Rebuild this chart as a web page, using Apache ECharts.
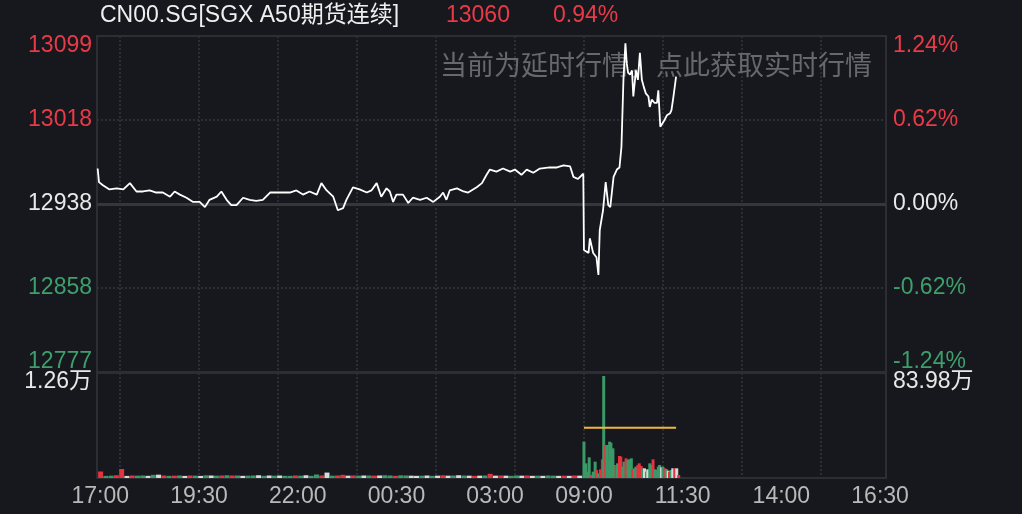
<!DOCTYPE html>
<html><head><meta charset="utf-8">
<script src="https://cdn.jsdelivr.net/npm/echarts@6/dist/echarts.min.js"></script>
<style>html,body{margin:0;padding:0;background:#16181d;}#c{width:1022px;height:514px;}</style>
</head><body><div id="c"></div>
<script>
// ---------- data ----------
const titleName = 'CN00.SG[SGX A50期货连续]';
const lastPrice = '13060';
const lastChange = '0.94%';
const notice = '当前为延时行情，点此获取实时行情';
const prevClose = 12938;
const priceMin = 12777, priceMax = 13099;
const priceTickLabels = ['12777', '12858', '12938', '13018', '13099'];
const pctTickLabels = ['-1.24%', '-0.62%', '0.00%', '0.62%', '1.24%'];
const volMax = 12600, volMaxLabel = '1.26万';
const amtMax = 839800, amtMaxLabel = '83.98万';
const sessions = [['16:55', 740], ['09:00', 460]];
const timeTickLabels = ['17:00', '19:30', '22:00', '00:30', '03:00', '09:00', '11:30', '14:00', '16:30'];
const gridTimes = ['17:30', '19:30', '21:30', '23:30', '01:30', '03:30', '09:00', '11:00', '13:00', '15:00'];

// [minute index, price]
const pricePoints = [
 [1,12972],[3,12959],[9,12956],[19,12952],[30,12953],[40,12952],[50,12958],[60,12950],[70,12950],[80,12951],
 [90,12949],[100,12949],[111,12945],[118,12950],[126,12947],[136,12944],[146,12940],[156,12940],[164,12935],[171,12942],
 [182,12945],[189,12950],[197,12942],[204,12937],[212,12937],[222,12944],[232,12942],[242,12941],[252,12942],[263,12949],
 [273,12949],[283,12949],[293,12949],[303,12951],[313,12947],[323,12950],[334,12947],[341,12958],[349,12951],[359,12945],
 [366,12932],[374,12934],[379,12942],[389,12954],[399,12952],[410,12949],[417,12951],[425,12958],[432,12945],[440,12953],
 [445,12950],[450,12940],[455,12947],[465,12947],[473,12939],[480,12944],[491,12942],[501,12944],[511,12940],[521,12945],
 [526,12949],[531,12942],[536,12951],[547,12953],[557,12950],[564,12949],[577,12954],[585,12958],[592,12966],[597,12971],
 [607,12969],[617,12972],[628,12969],[635,12971],[645,12966],[653,12971],[663,12968],[673,12972],[688,12973],[699,12973],
 [709,12975],[719,12974],[724,12964],[731,12962],[739,12967],
 [740,12894],[747,12891],[749,12905],[754,12891],[759,12887],[762,12870],[764,12913],[769,12932],[773,12959],[777,12937],
 [780,12935],[785,12964],[790,12971],[794,12973],[797,12993],[800,13057],[803,13092],[805,13073],[807,13064],[810,13062],
 [813,13066],[815,13041],[819,13066],[822,13057],[825,13083],[828,13057],[831,13050],[834,13044],[838,13041],[840,13031],
 [843,13038],[847,13035],[851,13035],[853,13047],[856,13012],[858,13011],[862,13018],[866,13023],[871,13025],[873,13028],
 [876,13041],[880,13060]
];

// [minute index, volume, direction r/g/f]
const nightVolume = [
 [4,780,'r'],[12,250,'g'],[20,280,'g'],[28,330,'r'],[36,1080,'r'],[44,250,'f'],[52,300,'r'],[60,280,'g'],[68,300,'g'],[76,260,'f'],
 [84,380,'g'],[92,400,'f'],[100,300,'r'],[108,260,'g'],[116,280,'r'],[124,300,'g'],[132,250,'f'],[140,300,'r'],[148,280,'g'],[156,250,'f'],
 [164,320,'g'],[172,300,'f'],[180,280,'g'],[188,300,'r'],[196,330,'g'],[204,300,'r'],[212,300,'g'],[220,260,'f'],[228,280,'g'],[236,300,'g'],
 [244,330,'f'],[252,260,'g'],[260,300,'f'],[268,280,'g'],[276,300,'f'],[284,260,'g'],[292,260,'g'],[300,300,'r'],[308,280,'g'],[316,330,'f'],
 [324,260,'g'],[332,420,'g'],[340,300,'r'],[348,650,'f'],[356,280,'g'],[364,300,'r'],[372,380,'r'],[380,280,'f'],[388,300,'r'],[396,280,'g'],
 [404,300,'f'],[412,300,'g'],[420,280,'r'],[428,300,'f'],[436,330,'g'],[444,300,'g'],[452,260,'r'],[460,320,'g'],[468,300,'g'],[476,280,'f'],
 [484,260,'f'],[492,280,'g'],[500,300,'f'],[508,260,'g'],[516,280,'f'],[524,330,'r'],[532,280,'f'],[540,300,'g'],[548,330,'f'],[556,300,'g'],
 [564,280,'f'],[572,260,'r'],[580,280,'f'],[588,300,'g'],[596,500,'r'],[604,280,'f'],[612,300,'r'],[620,280,'f'],[628,260,'g'],[636,300,'g'],
 [644,280,'f'],[652,300,'r'],[660,260,'f'],[668,280,'g'],[676,260,'f'],[684,300,'g'],[692,280,'g'],[700,260,'f'],[708,280,'r'],[716,260,'f'],
 [724,300,'r'],[732,280,'f']
];
const dayVolume = [
 [740,4360,'g'],[743,1760,'g'],[745,760,'g'],[748,2480,'g'],[751,360,'r'],[754,760,'g'],[757,1960,'g'],[759,960,'r'],[762,560,'g'],[765,1040,'r'],
 [768,2240,'r'],[770,12240,'g'],[773,3960,'r'],[775,3960,'g'],[777,2360,'g'],[779,4360,'g'],[781,4240,'g'],[784,3560,'g'],[786,1560,'g'],[789,1560,'r'],
 [791,1760,'g'],[794,2640,'r'],[796,2560,'r'],[799,1360,'g'],[801,1960,'g'],[804,2360,'r'],[807,2160,'g'],[809,2240,'g'],[812,2360,'g'],[814,1080,'r'],
 [817,1160,'g'],[819,1360,'g'],[822,1560,'r'],[824,1760,'r'],[827,1440,'r'],[829,1160,'g'],[832,1160,'f'],[835,760,'g'],[837,1040,'f'],[840,1760,'g'],
 [842,1560,'g'],[845,2240,'r'],[848,1040,'g'],[850,960,'g'],[853,1360,'g'],[855,1560,'g'],[858,1280,'f'],[860,1360,'g'],[863,1160,'r'],[865,1080,'g'],
 [868,880,'f'],[870,760,'r'],[873,960,'g'],[875,1160,'f'],[878,1160,'r'],[881,1160,'f'],[884,360,'r']
];
const avgVolume = [[740,6040],[880,6040]];

// ---------- styling ----------
const RED = '#ea3a48', GREEN = '#3f9f6c', WHITE = '#e8e8e8', FLAT = '#d9d9d9';
const VRED = '#e6323f', VGREEN = '#3a9967';
const GRIDC = '#2c2e33';
const F = '"Liberation Sans", "Noto Sans CJK SC", Arial, sans-serif';
const FS = 23;

// categories (one per minute)
const pad = n => (n < 10 ? '0' : '') + n;
const cats = [];
sessions.forEach(([start, n]) => {
  const [h, m] = start.split(':').map(Number);
  for (let i = 0; i < n; i++) {
    const t = h * 60 + m + i;
    cats.push(pad(Math.floor(t / 60) % 24) + ':' + pad(t % 60));
  }
});
const priceData = cats.map(() => null);
pricePoints.forEach(([i, v]) => { priceData[i] = v; });
const dirColor = { r: VRED, g: VGREEN, f: FLAT };
function volSeriesData(list) {
  const arr = cats.map(() => null);
  list.forEach(([i, v, d]) => { arr[i] = { value: v, itemStyle: { color: dirColor[d] } }; });
  return arr;
}
const avgData = cats.map(() => null);
avgVolume.forEach(([i, v]) => { avgData[i] = v; });

const priceInterval = (priceMax - priceMin) / 4;
const tickIdx = v => Math.round((v - priceMin) / priceInterval);
const labelCls = ['gb', 'g', 'w', 'r', 'rt'];
const rs = (c, p) => ({ color: c, fontSize: FS, fontFamily: F, padding: p });
const priceRich = {
  rt: rs(RED, [20, 0, 0, 0]), r: rs(RED, 0), w: rs(WHITE, 0), g: rs(GREEN, 0), gb: rs(GREEN, [0, 0, 20, 0])
};
const dotted = { color: GRIDC, width: 2, type: [2, 2] };

const chart = echarts.init(document.getElementById('c'), null, { renderer: 'canvas' });
chart.setOption({
  backgroundColor: '#16181d',
  animation: false,
  title: [
    {
      left: 100, top: 4, z: 0, padding: 0,
      text: '{n|' + titleName + '}{p|' + lastPrice + '}{c|' + lastChange + '}',
      textStyle: {
        rich: {
          n: { width: 346, color: '#efefef', fontSize: FS, fontFamily: F, fontWeight: 'normal' },
          p: { width: 107, color: RED, fontSize: FS, fontFamily: F, fontWeight: 'normal' },
          c: { color: RED, fontSize: FS, fontFamily: F, fontWeight: 'normal' }
        }
      }
    },
    {
      left: 440, top: 51, z: 0, padding: 0,
      text: notice,
      textStyle: { color: '#67686c', fontSize: 27, fontWeight: 'normal', fontFamily: '"Noto Sans CJK SC", sans-serif' }
    }
  ],
  grid: [
    { left: 97, right: 136, top: 36, height: 336, show: true, borderColor: GRIDC, borderWidth: 2, backgroundColor: 'transparent' },
    { left: 97, right: 136, top: 373, height: 105, show: true, borderColor: GRIDC, borderWidth: 2, backgroundColor: 'transparent' }
  ],
  xAxis: [
    {
      type: 'category', gridIndex: 0, data: cats, boundaryGap: false,
      axisLine: { show: false }, axisTick: { show: false }, axisLabel: { show: false },
      splitLine: { show: true, interval: (i, v) => gridTimes.includes(v), lineStyle: dotted }
    },
    {
      type: 'category', gridIndex: 1, data: cats, boundaryGap: false,
      axisLine: { show: false }, axisTick: { show: false },
      axisLabel: {
        show: true, interval: (i, v) => timeTickLabels.includes(v), margin: 7,
        color: '#b9b9b9', fontSize: FS, fontFamily: F
      },
      splitLine: { show: true, interval: (i, v) => gridTimes.includes(v), lineStyle: dotted }
    }
  ],
  yAxis: [
    {
      type: 'value', gridIndex: 0, position: 'left', min: priceMin, max: priceMax, interval: priceInterval,
      axisLine: { show: false }, axisTick: { show: false },
      axisLabel: {
        margin: 5,
        formatter: v => '{' + labelCls[tickIdx(v)] + '|' + priceTickLabels[tickIdx(v)] + '}',
        rich: priceRich
      },
      splitLine: { show: true, showMinLine: false, showMaxLine: false, lineStyle: dotted }
    },
    {
      type: 'value', gridIndex: 0, position: 'right', min: priceMin, max: priceMax, interval: priceInterval,
      axisLine: { show: false }, axisTick: { show: false },
      axisLabel: {
        margin: 7,
        formatter: v => '{' + labelCls[tickIdx(v)] + '|' + pctTickLabels[tickIdx(v)] + '}',
        rich: priceRich
      },
      splitLine: { show: false }
    },
    {
      type: 'value', gridIndex: 1, position: 'left', min: 0, max: volMax, interval: volMax,
      axisLine: { show: false }, axisTick: { show: false }, splitLine: { show: false },
      axisLabel: {
        margin: 5,
        formatter: v => (v === volMax ? '{t|' + volMaxLabel + '}' : ''),
        rich: { t: rs(WHITE, [18, 0, 0, 0]) }
      }
    },
    {
      type: 'value', gridIndex: 1, position: 'right', min: 0, max: amtMax, interval: amtMax,
      axisLine: { show: false }, axisTick: { show: false }, splitLine: { show: false },
      axisLabel: {
        margin: 7,
        formatter: v => (v === amtMax ? '{t|' + amtMaxLabel + '}' : ''),
        rich: { t: rs(WHITE, [18, 0, 0, 0]) }
      }
    }
  ],
  series: [
    {
      type: 'line', xAxisIndex: 0, yAxisIndex: 0, data: priceData, connectNulls: true,
      showSymbol: false, z: 5,
      lineStyle: { color: '#ffffff', width: 1.8 },
      markLine: {
        silent: true, symbol: 'none', label: { show: false }, z: 1,
        lineStyle: { color: '#36373b', width: 3, type: 'solid' },
        data: [{ yAxis: prevClose }]
      }
    },
    {
      type: 'bar', xAxisIndex: 1, yAxisIndex: 2, data: volSeriesData(nightVolume),
      barWidth: 5, barGap: '-100%'
    },
    {
      type: 'bar', xAxisIndex: 1, yAxisIndex: 2, data: volSeriesData(dayVolume),
      barWidth: 3, barGap: '-100%'
    },
    {
      type: 'line', xAxisIndex: 1, yAxisIndex: 2, data: avgData, connectNulls: true,
      showSymbol: false, lineStyle: { color: '#f2b63e', width: 2 }, z: 4
    }
  ]
});
</script>
</body></html>
